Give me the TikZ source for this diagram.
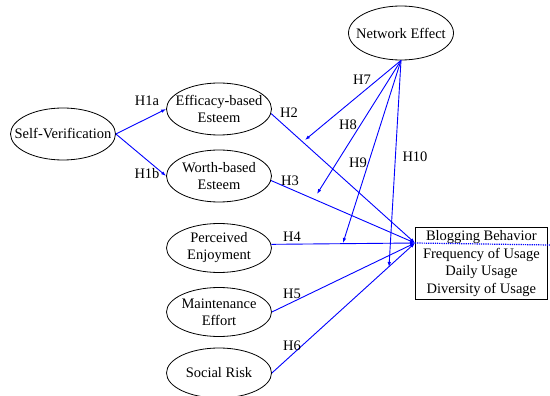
\documentclass[tikz,border=0pt]{standalone}
\usepackage{fontspec}
\setmainfont{Liberation Serif}
\usetikzlibrary{arrows.meta,shapes.geometric}

\begin{document}
\begin{tikzpicture}[
		x=1pt,y=-1pt,
		construct/.style={ellipse,draw=black,line width=0.8pt,minimum width=105pt,minimum height=52pt,
			inner xsep=-25pt,inner ysep=-10pt,align=center,font=\fontsize{14.5}{17}\selectfont},
		outcome/.style={draw=black,line width=0.8pt,minimum width=132pt,minimum height=72pt,
			inner sep=0pt,align=center,anchor=north west,font=\fontsize{14.5}{17.5}\selectfont},
		path/.style={-{Latex[length=5pt,width=3.5pt]},blue,line width=0.9pt},
		lab/.style={font=\fontsize{14.5}{16}\selectfont,inner sep=0pt}
		]
		\useasboundingbox (0,0) rectangle (550,396);
		% ===== Constructs =====
		\node[construct] (sv)  at (63,134)  {Self-Verification};
		\node[construct] (ebe) at (219,109) {Efficacy-based\\Esteem};
		\node[construct] (wbe) at (219,176) {Worth-based\\Esteem};
		\node[construct,minimum height=49pt] (pe) at (219,248) {Perceived\\Enjoyment};
		\node[construct,minimum height=49pt] (me) at (219,312) {Maintenance\\Effort};
		\node[construct,minimum height=50pt] (sr) at (219,373) {Social Risk};
		\node[construct,minimum height=54pt] (ne) at (401,33) {Network Effect};
		% ===== Outcome box =====
		\node[outcome] (bb) at (415,227) {Blogging Behavior\\Frequency of Usage\\Daily Usage\\Diversity of Usage};
		\coordinate (bin) at (415,243);
		\coordinate (bout) at (550,245);
		\draw[blue,densely dotted,line width=1.2pt] (bin) -- (bout);
		% ===== Self-verification paths =====
		\draw[path] (sv.east) -- (ebe.west);
		\draw[path] (sv.east) -- (wbe.west);
		% ===== Main effects =====
		\draw[path] (ebe.-5) -- (bin);
		\draw[path] (wbe.-5) -- (bin);
		\draw[path] (pe.4) -- (bin);
		\draw[path] (me.east) -- (bin);
		\draw[path] (sr.east) -- (bin);
		% ===== Moderation by network effect =====
		\coordinate (m7)  at (305,140);
		\coordinate (m8)  at (317,194);
		\coordinate (m9)  at (343,243);
		\coordinate (m10) at (389,267);
		\draw[path] (ne.south) -- (m7);
		\draw[path] (ne.south) -- (m8);
		\draw[path] (ne.south) -- (m9);
		\draw[path] (ne.south) -- (m10);
		% ===== Hypothesis labels =====
		\node[lab] (h1a) at (147,101) {H1a};
		\node[lab] (h1b) at (147,174) {H1b};
		\node[lab] (h2)  at (289,113) {H2};
		\node[lab] (h3)  at (290,181) {H3};
		\node[lab] (h4)  at (292,237) {H4};
		\node[lab] (h5)  at (292,294) {H5};
		\node[lab] (h6)  at (292,346) {H6};
		\node[lab] (h7)  at (362,80)  {H7};
		\node[lab] (h8)  at (348,125) {H8};
		\node[lab] (h9)  at (358,163) {H9};
		\node[lab] (h10) at (415,157) {H10};
	\end{tikzpicture}
\end{document}
